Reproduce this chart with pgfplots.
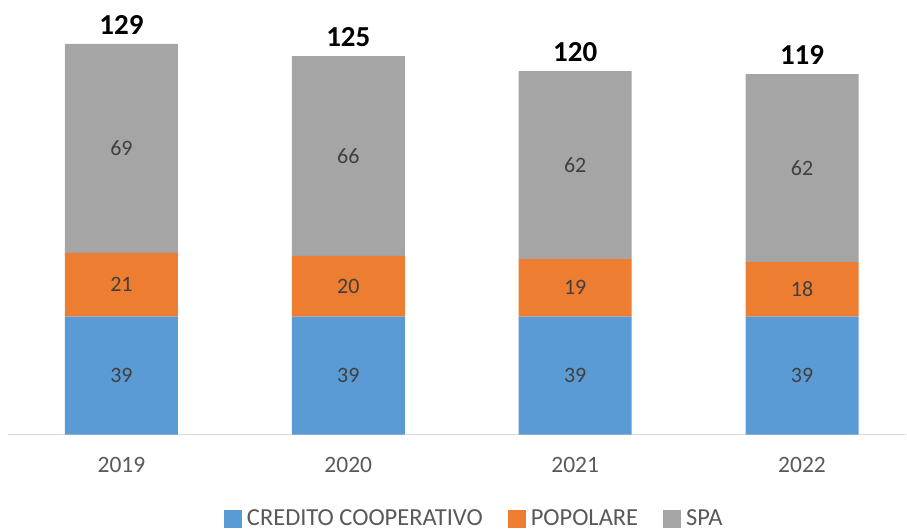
\documentclass[border=0pt]{standalone}
\usepackage{pgfplots}
\pgfplotsset{compat=1.18}
\usepackage{fontspec}
\setmainfont{Carlito}
\definecolor{cblue}{HTML}{5B9BD5}
\definecolor{corange}{HTML}{ED7D31}
\definecolor{cgray}{HTML}{A5A5A5}
\definecolor{axgray}{HTML}{D9D9D9}
\definecolor{txtgray}{HTML}{595959}
\definecolor{labgray}{HTML}{404040}
\pgfplotsset{
  common/.style={width=899pt,height=435pt,scale only axis,
    xmin=-0.5,xmax=3.46,ymin=0,ymax=143.5,clip=false},
  sq/.style={legend image code/.code={\fill[##1] (0pt,-9pt) rectangle (18pt,9pt);}},
}
\begin{document}
\begin{tikzpicture}
\begin{axis}[common, ybar stacked, bar width=113pt,
  axis x line*=bottom, axis y line=none,
  x axis line style={draw=axgray, line width=1.2pt, -},
  xtick={0,1,2,3}, xticklabels={2019,2020,2021,2022},
  major tick length=0pt,
  xticklabel style={font=\fontsize{23.5}{28}\selectfont, text=txtgray, yshift=-19pt},
  legend columns=-1,
  legend style={at={(0.5206,-0.193)}, anchor=center, draw=none,
    font=\fontsize{24.5}{29}\selectfont, text=txtgray,
    nodes={inner xsep=5pt},
    /tikz/every even column/.append style={column sep=20pt}},
]
\addplot[sq, fill=cblue, draw=none] coordinates {(0,39) (1,39) (2,39) (3,39)};
\addplot[sq, fill=corange, draw=none] coordinates {(0,21) (1,20) (2,19) (3,18)};
\addplot[sq, fill=cgray, draw=none] coordinates {(0,69) (1,66) (2,62) (3,62)};
\legend{CREDITO COOPERATIVO, POPOLARE, SPA}
\path (rel axis cs:-0.0089,-0.2161) rectangle (rel axis cs:1,1);
\end{axis}
\begin{axis}[common, hide axis]
\addplot[draw=none, mark=none, nodes near coords, point meta=explicit symbolic,
  nodes near coords style={anchor=center, font=\fontsize{22}{26}\selectfont, text=labgray}]
  coordinates {(0,19.5)[39] (1,19.5)[39] (2,19.5)[39] (3,19.5)[39]
               (0,49.5)[21] (1,49)[20] (2,48.5)[19] (3,48)[18]
               (0,94.5)[69] (1,92)[66] (2,89)[62] (3,88)[62]};
\addplot[draw=none, mark=none, nodes near coords, point meta=explicit symbolic,
  nodes near coords style={anchor=south, yshift=6pt, font=\fontsize{29}{33}\selectfont\bfseries, text=black}]
  coordinates {(0,129)[129] (1,125)[125] (2,120)[120] (3,119)[119]};
\end{axis}
\end{tikzpicture}
\end{document}
